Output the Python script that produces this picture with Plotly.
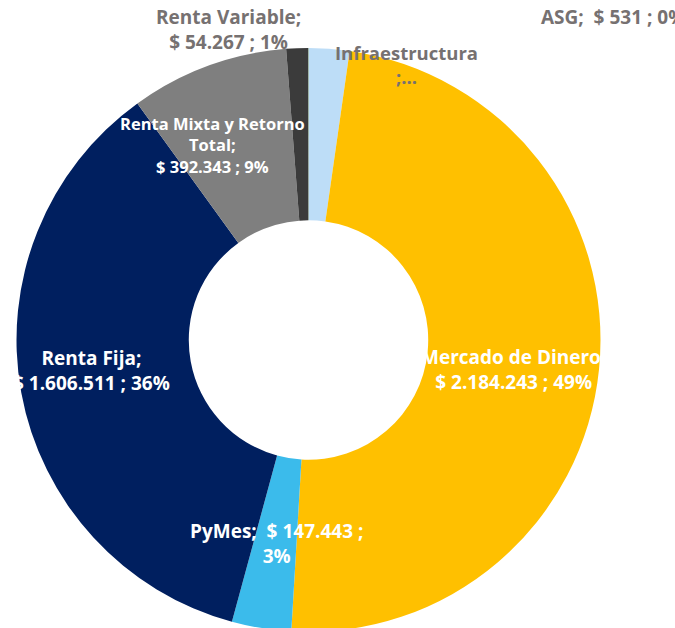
import plotly.graph_objects as go

# Data (clockwise from 12 o'clock)
categories = ["Infraestructura", "Mercado de Dinero", "PyMes", "Renta Fija",
              "Renta Mixta y Retorno Total", "Renta Variable", "ASG"]
values = [101000, 2184243, 147443, 1606511, 392343, 54267, 531]
colors = ["#BDDDF7", "#FFC000", "#3BBBEB", "#001F5F", "#7F7F7F", "#3B3B3B", "#70AD47"]

W, H = 675, 632
total = sum(values)


def fmt(v):
    return "$ " + f"{v:,}".replace(",", ".")


def pct(v):
    return f"{round(v / total * 100)}%"


lab = {c: (fmt(v), pct(v)) for c, v in zip(categories, values)}

fig = go.Figure(go.Pie(
    labels=categories,
    values=values,
    marker=dict(colors=colors, line=dict(width=0)),
    hole=0.41,
    sort=False,
    direction="clockwise",
    rotation=0,
    textinfo="none",
    hoverinfo="label+value+percent",
    showlegend=False,
    domain=dict(x=[16.5 / W, 600.5 / W], y=[0, 1 - 48 / H]),
))

GRAY = "#767171"
WHITE = "#FFFFFF"
FONT = "Open Sans"

# (text, x_px, y_px, color, size, xanchor)
label_specs = [
    (f"{categories[5]};<br>{lab[categories[5]][0]} ; {lab[categories[5]][1]}", 228, 29, GRAY, 19, "center"),
    (f"{categories[6]};  {lab[categories[6]][0]} ; {lab[categories[6]][1]}", 539, 17, GRAY, 19, "left"),
    (f"{categories[0]}<br>;...", 406, 64.5, GRAY, 18.5, "center"),
    ("Renta Mixta y Retorno<br>Total;<br>" + f"{lab[categories[4]][0]} ; {lab[categories[4]][1]}", 213, 145, WHITE, 16.5, "center"),
    (f"{categories[3]};<br>{lab[categories[3]][0]} ; {lab[categories[3]][1]}", 91.5, 370, WHITE, 19, "center"),
    (f"{categories[1]};<br>{lab[categories[1]][0]} ; {lab[categories[1]][1]}", 513, 369, WHITE, 19, "center"),
    (f"{categories[2]};  {lab[categories[2]][0]} ;<br>{lab[categories[2]][1]}", 276, 543, WHITE, 19, "center"),
]

annotations = []
for text, xp, yp, col, size, xa in label_specs:
    annotations.append(dict(
        text=text, x=xp / W, y=1 - yp / H, xref="paper", yref="paper",
        xanchor=xa, yanchor="middle", showarrow=False, align="center",
        font=dict(family=FONT, size=size, color=col, weight="bold"),
    ))

fig.update_layout(
    width=W, height=H,
    margin=dict(l=0, r=0, t=0, b=0),
    paper_bgcolor="white", plot_bgcolor="white",
    annotations=annotations,
)

fig.write_html(
    "out.html",
    config={"displayModeBar": False},
    post_script="document.body.style.margin='0';document.body.style.overflow='hidden';document.documentElement.style.overflow='hidden';",
)
